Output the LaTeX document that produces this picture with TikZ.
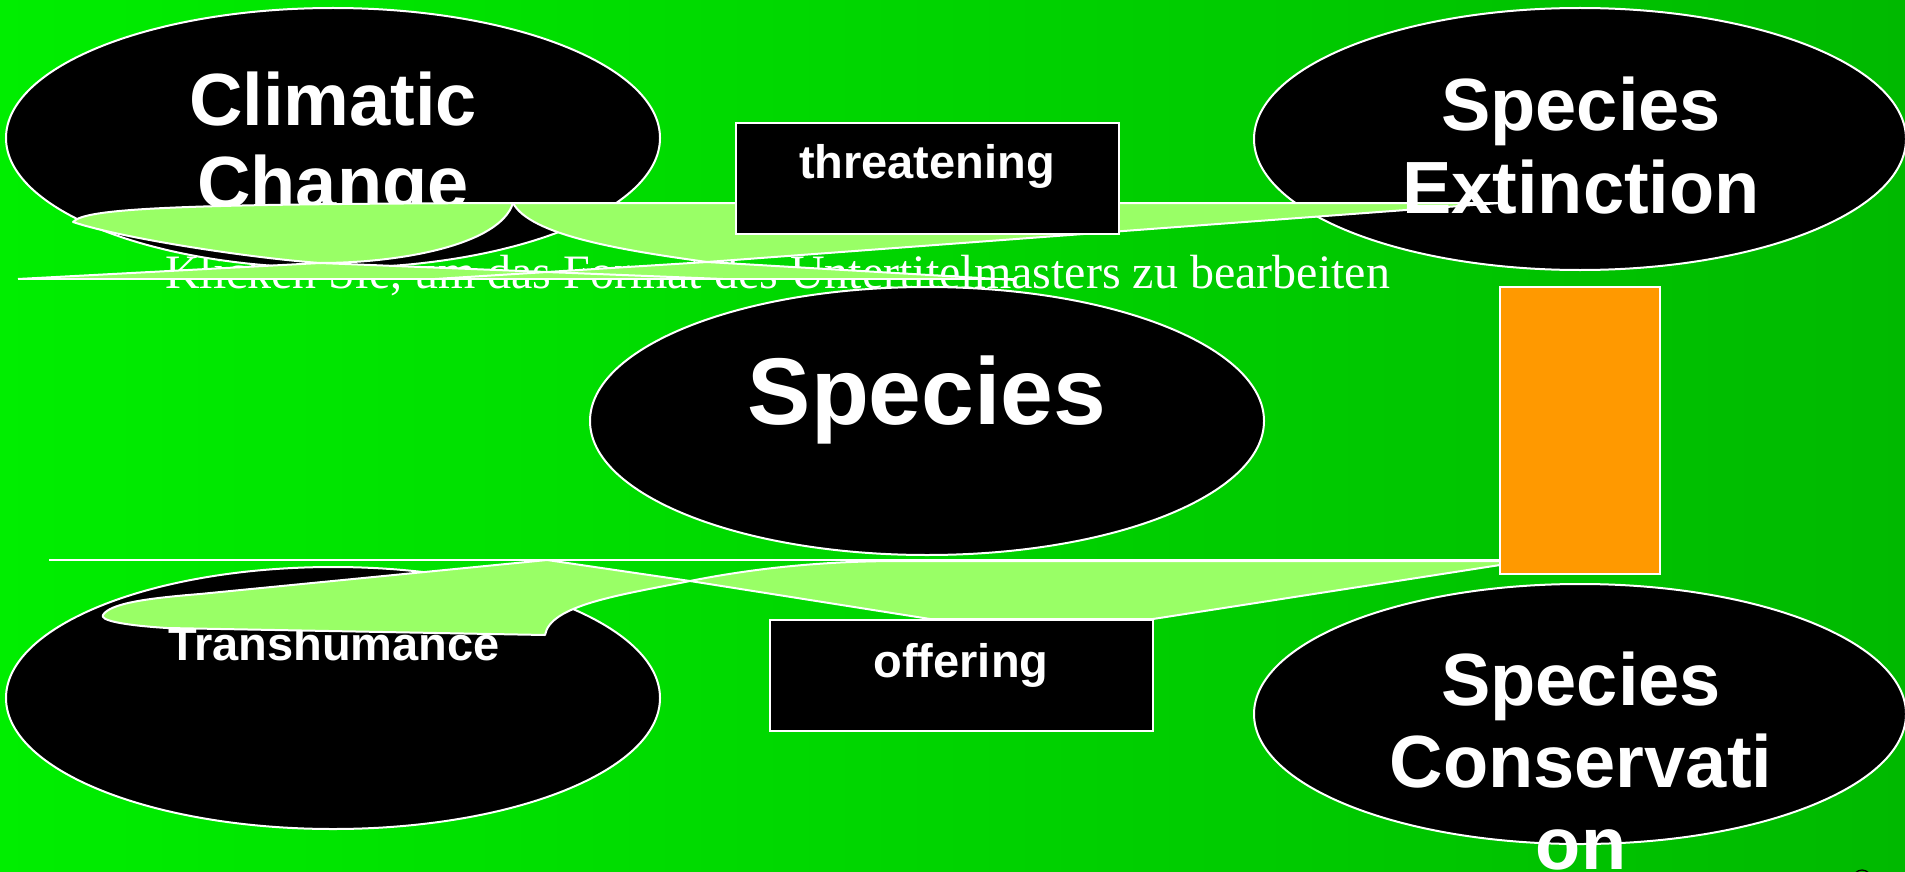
\documentclass[tikz,border=0pt]{standalone}
\usepackage{fontspec}
\setmainfont{Liberation Serif}
\setsansfont{Liberation Sans}
\usetikzlibrary{shapes.geometric}

\definecolor{lightleaf}{RGB}{153,255,102}
\definecolor{grassleft}{RGB}{0,238,0}
\definecolor{grassright}{RGB}{0,185,0}
\definecolor{amber}{RGB}{255,153,0}

\begin{document}
\begin{tikzpicture}[x=0.5pt,y=-0.5pt,line width=1pt,
  oval node/.style={ellipse,fill=black,draw=white,inner sep=0pt},
  box node/.style={rectangle,fill=black,draw=white,inner sep=0pt,minimum width=191.5pt,minimum height=55.5pt},
  big text/.style={white,inner sep=0pt,anchor=base,font=\sffamily\bfseries\fontsize{37}{41}\selectfont},
  small text/.style={white,inner sep=0pt,anchor=base,font=\sffamily\bfseries\fontsize{23.5}{27}\selectfont},
  arrow shape/.style={fill=lightleaf,draw=white,line join=round}]

  \shade[left color=grassleft,right color=grassright] (0,0) rectangle (1905,872);
  \useasboundingbox (0,0) rectangle (1905,872);
  \clip (0,0) rectangle (1905,872);

  % subtitle placeholder
  \node[anchor=base west,inner sep=0pt,white,font=\fontsize{24}{28}\selectfont] (subtitle) at (164,288)
    {Klicken Sie, um das Format des Untertitelmasters zu bearbeiten};

  % ovals
  \node[oval node,minimum width=327pt,minimum height=130pt] (climate) at (333,138) {};
  \node[oval node,minimum width=326pt,minimum height=131pt] (extinct) at (1580,139) {};
  \node[oval node,minimum width=337pt,minimum height=134pt] (species) at (927,421) {};
  \node[oval node,minimum width=327pt,minimum height=131pt] (transhum) at (333,698) {};
  \node[oval node,minimum width=326pt,minimum height=130pt] (conserv) at (1580,714) {};

  \node[big text] (climate1) at (333,126) {Climatic};
  \node[big text] (climate2) at (333,208) {Change};
  \node[small text] (transtxt) at (334,660) {Transhumance};
  \node[white,inner sep=0pt,anchor=base,font=\sffamily\bfseries\fontsize{47.4}{52}\selectfont] (speciestxt) at (927,424) {Species};

  % upper bent arrow
  \path[fill=lightleaf] (18,279) -- (320,263) -- (547,272) -- (707,262) -- (1015,280) -- cycle;
  \draw[white] (18,279) -- (1015,279);
  \draw[white] (18,279) -- (320,263) -- (723,279);
  \draw[white] (435,279) -- (707,262) -- (1015,280);
  \path[arrow shape] (73,222) .. controls (85,208) and (180,204) .. (513,203)
    .. controls (500,245) and (400,263) .. (320,263)
    .. controls (250,258) and (120,238) .. (73,222) -- cycle;
  \path[arrow shape] (513,203) -- (1500,203) -- (707,262)
    .. controls (620,250) and (530,235) .. (513,203) -- cycle;

  % lower bent arrow
  \draw[white] (49,560) -- (1500,560);
  \path[arrow shape] (103,615) .. controls (110,603) and (150,598) .. (200,594) -- (547,560) -- (690,581)
    .. controls (620,595) and (550,605) .. (545,635) -- (167,628)
    .. controls (120,625) and (100,620) .. (103,615) -- cycle;
  \path[arrow shape] (690,581) .. controls (760,567) and (830,561) .. (900,561) -- (1500,561)
    -- (1500,565) -- (1153,619) -- (930,619) -- cycle;

  % boxes
  \node[box node] (threat) at (927.5,178.5) {};
  \node[box node] (offer) at (961.5,675.5) {};
  \node[rectangle,fill=amber,draw=white,inner sep=0pt,minimum width=80pt,minimum height=143.5pt] (sidebar) at (1580,430.5) {};

  \node[small text] (threattxt) at (927,178) {threatening};
  \node[small text] (offertxt) at (961,677) {offering};
  \node[big text] (extinct1) at (1581,131) {Species};
  \node[big text] (extinct2) at (1581,213) {Extinction};
  \node[big text] (conserv1) at (1581,705) {Species};
  \node[big text] (conserv2) at (1581,787) {Conservati};
  \node[big text] (conserv3) at (1581,869) {on};

  \draw[black,line width=0.6pt] (1862,879) circle[radius=4.5pt];
\end{tikzpicture}
\end{document}
